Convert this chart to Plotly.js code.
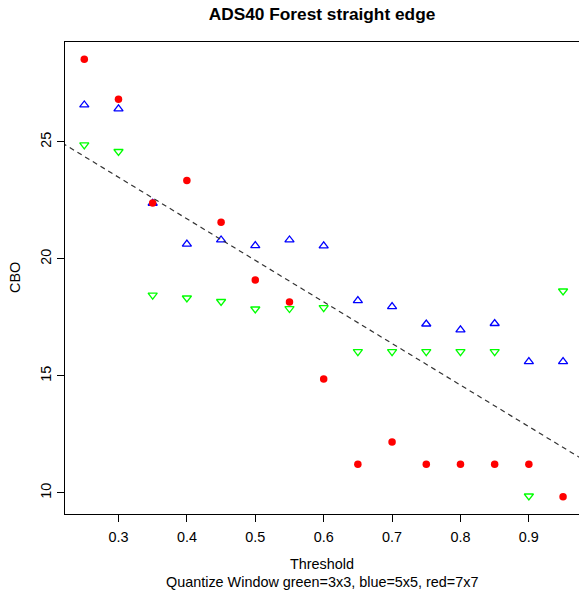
<!DOCTYPE html>
<html>
<head>
<meta charset="utf-8">
<script src="https://cdn.plot.ly/plotly-3.0.1.min.js"></script>
<style>
html, body { margin: 0; padding: 0; background: #fff; overflow: hidden; }
#chart { width: 579px; height: 594px; }
</style>
</head>
<body>
<div id="chart"></div>
<script>
// Data
var threshold = [0.25, 0.30, 0.35, 0.40, 0.45, 0.50, 0.55, 0.60, 0.65, 0.70, 0.75, 0.80, 0.85, 0.90, 0.95];
var green3x3 = [24.87, 24.59, 18.45, 18.33, 18.18, 17.86, 17.88, 17.92, 16.04, 16.04, 16.04, 16.04, 16.04, 9.87, 18.63];
var blue5x5  = [26.58, 26.41, 22.38, 20.63, 20.81, 20.57, 20.81, 20.56, 18.22, 17.96, 17.22, 16.97, 17.24, 15.61, 15.61];
var red7x7   = [28.53, 26.82, 22.39, 23.35, 21.57, 19.10, 18.16, 14.87, 11.23, 12.18, 11.23, 11.23, 11.23, 11.23, 9.84];
var xTicks = [0.3, 0.4, 0.5, 0.6, 0.7, 0.8, 0.9];
var yTicks = [10, 15, 20, 25];
var titleText = 'ADS40 Forest straight edge';
var xLabel = 'Threshold';
var subLabel = 'Quantize Window green=3x3, blue=5x5, red=7x7';
var yLabel = 'CBO';

// Least-squares fit over all points
var allX = [], allY = [];
[green3x3, blue5x5, red7x7].forEach(function (s) {
  s.forEach(function (v, i) { allX.push(threshold[i]); allY.push(v); });
});
var n = allX.length, mx = 0, my = 0;
for (var i = 0; i < n; i++) { mx += allX[i]; my += allY[i]; }
mx /= n; my /= n;
var sxy = 0, sxx = 0;
for (var i = 0; i < n; i++) { sxy += (allX[i] - mx) * (allY[i] - my); sxx += (allX[i] - mx) * (allX[i] - mx); }
var slope = sxy / sxx, intercept = my - slope * mx;
var xr = [0.2218, 0.9733];
var lineX = [0.15, 1.05];
var lineY = lineX.map(function (x) { return intercept + slope * x; });

var font = "Liberation Sans, Arial, Helvetica, sans-serif";
var fs = 14.4;

var traces = [
  { x: threshold, y: green3x3, type: 'scatter', mode: 'markers', name: 'green=3x3',
    marker: { symbol: 'triangle-down-open', size: 8, color: '#00FF00', line: { width: 1.3, color: '#00FF00' } } },
  { x: threshold, y: blue5x5, type: 'scatter', mode: 'markers', name: 'blue=5x5',
    marker: { symbol: 'triangle-up-open', size: 8, color: '#0000FF', line: { width: 1.3, color: '#0000FF' } } },
  { x: threshold, y: red7x7, type: 'scatter', mode: 'markers', name: 'red=7x7',
    marker: { symbol: 'circle', size: 7.5, color: '#FF0000' } },
  { x: lineX, y: lineY, type: 'scatter', mode: 'lines', name: 'fit',
    line: { color: '#333333', width: 1.2, dash: '5px,4px' } }
];

var layout = {
  width: 579, height: 594,
  margin: { l: 65, r: 0, t: 42, b: 80 },
  paper_bgcolor: '#fff', plot_bgcolor: '#fff',
  showlegend: false,
  font: { family: font, size: fs, color: '#000' },
  title: { text: '<b>' + titleText + '</b>', font: { family: font, size: 17.3, color: '#000' },
           x: 0.5, xref: 'paper', xanchor: 'center', y: 1 - 14 / 594, yref: 'container', yanchor: 'middle' },
  xaxis: {
    range: xr, tickvals: xTicks, ticktext: xTicks.map(function (v) { return v.toFixed(1); }),
    ticks: 'outside', ticklen: 7, tickcolor: '#000', tickwidth: 1, ticklabelstandoff: 3,
    showline: true, linecolor: '#000', linewidth: 1, mirror: true,
    showgrid: false, zeroline: false,
    tickfont: { family: font, size: fs, color: '#000' }
  },
  yaxis: {
    range: [9.1, 29.27], tickvals: yTicks, ticktext: yTicks.map(String),
    ticks: 'outside', ticklen: 7, tickcolor: '#000', tickwidth: 1, tickangle: -90,
    showline: true, linecolor: '#000', linewidth: 1, mirror: false,
    showgrid: false, zeroline: false,
    tickfont: { family: font, size: fs, color: '#000' }
  },
  annotations: [
    { text: xLabel, xref: 'paper', yref: 'paper', x: 0.5, y: (514 - 564) / 472, xanchor: 'center', yanchor: 'middle',
      showarrow: false, font: { family: font, size: fs, color: '#000' } },
    { text: subLabel, xref: 'paper', yref: 'paper', x: 0.5, y: (514 - 582) / 472, xanchor: 'center', yanchor: 'middle',
      showarrow: false, font: { family: font, size: fs, color: '#000' } },
    { text: yLabel, xref: 'paper', yref: 'paper', x: (15 - 65) / 514, y: 0.5, xanchor: 'center', yanchor: 'middle',
      textangle: -90, showarrow: false, font: { family: font, size: fs, color: '#000' } }
  ]
};

Plotly.newPlot('chart', traces, layout, { staticPlot: true, displayModeBar: false });
</script>
</body>
</html>
